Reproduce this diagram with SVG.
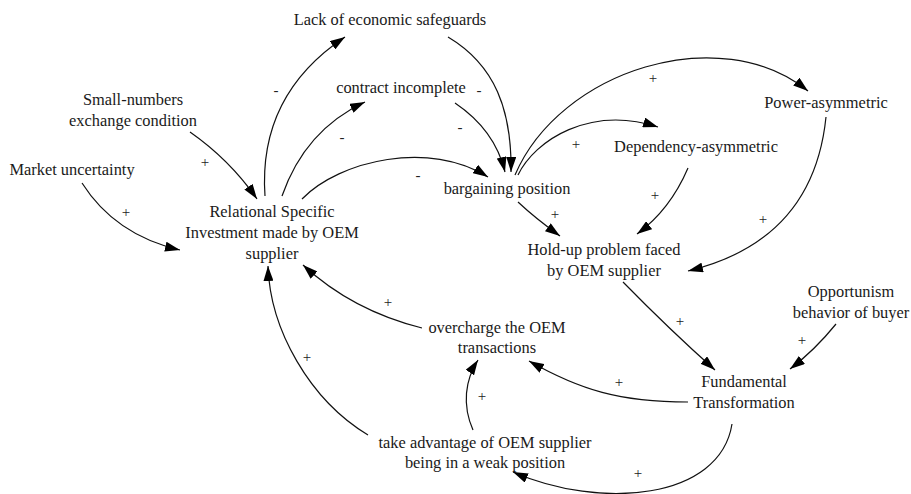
<svg xmlns="http://www.w3.org/2000/svg" width="911" height="494" viewBox="0 0 911 494">
<defs>
<marker id="ah" markerUnits="userSpaceOnUse" markerWidth="15" markerHeight="10" refX="15" refY="5" orient="auto">
<path d="M0,0 L15,5 L0,10 z" fill="#000"/>
</marker>
<style>
.n text{font-size:16.4px;fill:#1a1a1a;text-anchor:middle}
.c path{fill:none;stroke:#111;stroke-width:1.2;marker-end:url(#ah)}
.c text{font-size:15px;fill:#222;text-anchor:middle}
</style>
</defs>
<rect width="911" height="494" fill="#fff"/>
<g font-family="'Liberation Serif', 'DejaVu Serif', serif">
<g id="lack" class="n"><text x="390" y="25">Lack of economic safeguards</text></g>
<g id="small" class="n"><text x="133" y="105">Small-numbers</text><text x="133" y="126">exchange condition</text></g>
<g id="market" class="n"><text x="72" y="175">Market uncertainty</text></g>
<g id="contract" class="n"><text x="401" y="93">contract incomplete</text></g>
<g id="relational" class="n"><text x="272" y="217">Relational Specific</text><text x="272" y="238">Investment made by OEM</text><text x="272" y="259">supplier</text></g>
<g id="bargaining" class="n"><text x="507" y="194">bargaining position</text></g>
<g id="dependency" class="n"><text x="696" y="152">Dependency-asymmetric</text></g>
<g id="power" class="n"><text x="826" y="108">Power-asymmetric</text></g>
<g id="holdup" class="n"><text x="604" y="255">Hold-up problem faced</text><text x="604" y="276">by OEM supplier</text></g>
<g id="opportunism" class="n"><text x="851" y="297">Opportunism</text><text x="851" y="318">behavior of buyer</text></g>
<g id="overcharge" class="n"><text x="497" y="333">overcharge the OEM</text><text x="497" y="353">transactions</text></g>
<g id="fundamental" class="n"><text x="744" y="387">Fundamental</text><text x="744" y="408">Transformation</text></g>
<g id="takeadvantage" class="n"><text x="485" y="448">take advantage of OEM supplier</text><text x="485" y="468">being in a weak position</text></g>
<g id="connectors" class="c">
<path d="M82,183 Q115,235 180,250"/>
<path d="M190,132 Q230,160 257,199"/>
<path d="M265,196 Q258,95 345,37"/>
<path d="M282,196 Q305,130 365,102"/>
<path d="M302,199 C340,160 430,140 488,177"/>
<path d="M448,37 C495,65 512,110 511,172"/>
<path d="M455,103 Q495,130 505,172"/>
<path d="M515,175 C560,70 720,20 808,91"/>
<path d="M518,175 C535,140 590,105 658,127"/>
<path d="M518,202 Q535,218 560,236"/>
<path d="M688,168 Q670,210 637,234"/>
<path d="M826,117 C818,195 775,250 688,271"/>
<path d="M623,282 Q670,330 715,370"/>
<path d="M836,324 Q815,350 790,369"/>
<path d="M688,402 C620,402 580,390 529,361"/>
<path d="M732,424 C720,500 600,510 513,472"/>
<path d="M473,430 C462,405 465,380 478,360"/>
<path d="M422,328 C370,315 330,290 303,265"/>
<path d="M368,435 C310,400 270,330 268,266"/>
<text x="126" y="217">+</text>
<text x="205" y="167">+</text>
<text x="276" y="95">-</text>
<text x="342" y="142">-</text>
<text x="418" y="180">-</text>
<text x="479" y="95">-</text>
<text x="460" y="132">-</text>
<text x="653" y="83">+</text>
<text x="576" y="149">+</text>
<text x="555" y="219">+</text>
<text x="655" y="200">+</text>
<text x="763" y="224">+</text>
<text x="680" y="326">+</text>
<text x="802" y="345">+</text>
<text x="619" y="387">+</text>
<text x="638" y="478">+</text>
<text x="482" y="401">+</text>
<text x="388" y="307">+</text>
<text x="307" y="362">+</text>
</g>
</g>
</svg>
